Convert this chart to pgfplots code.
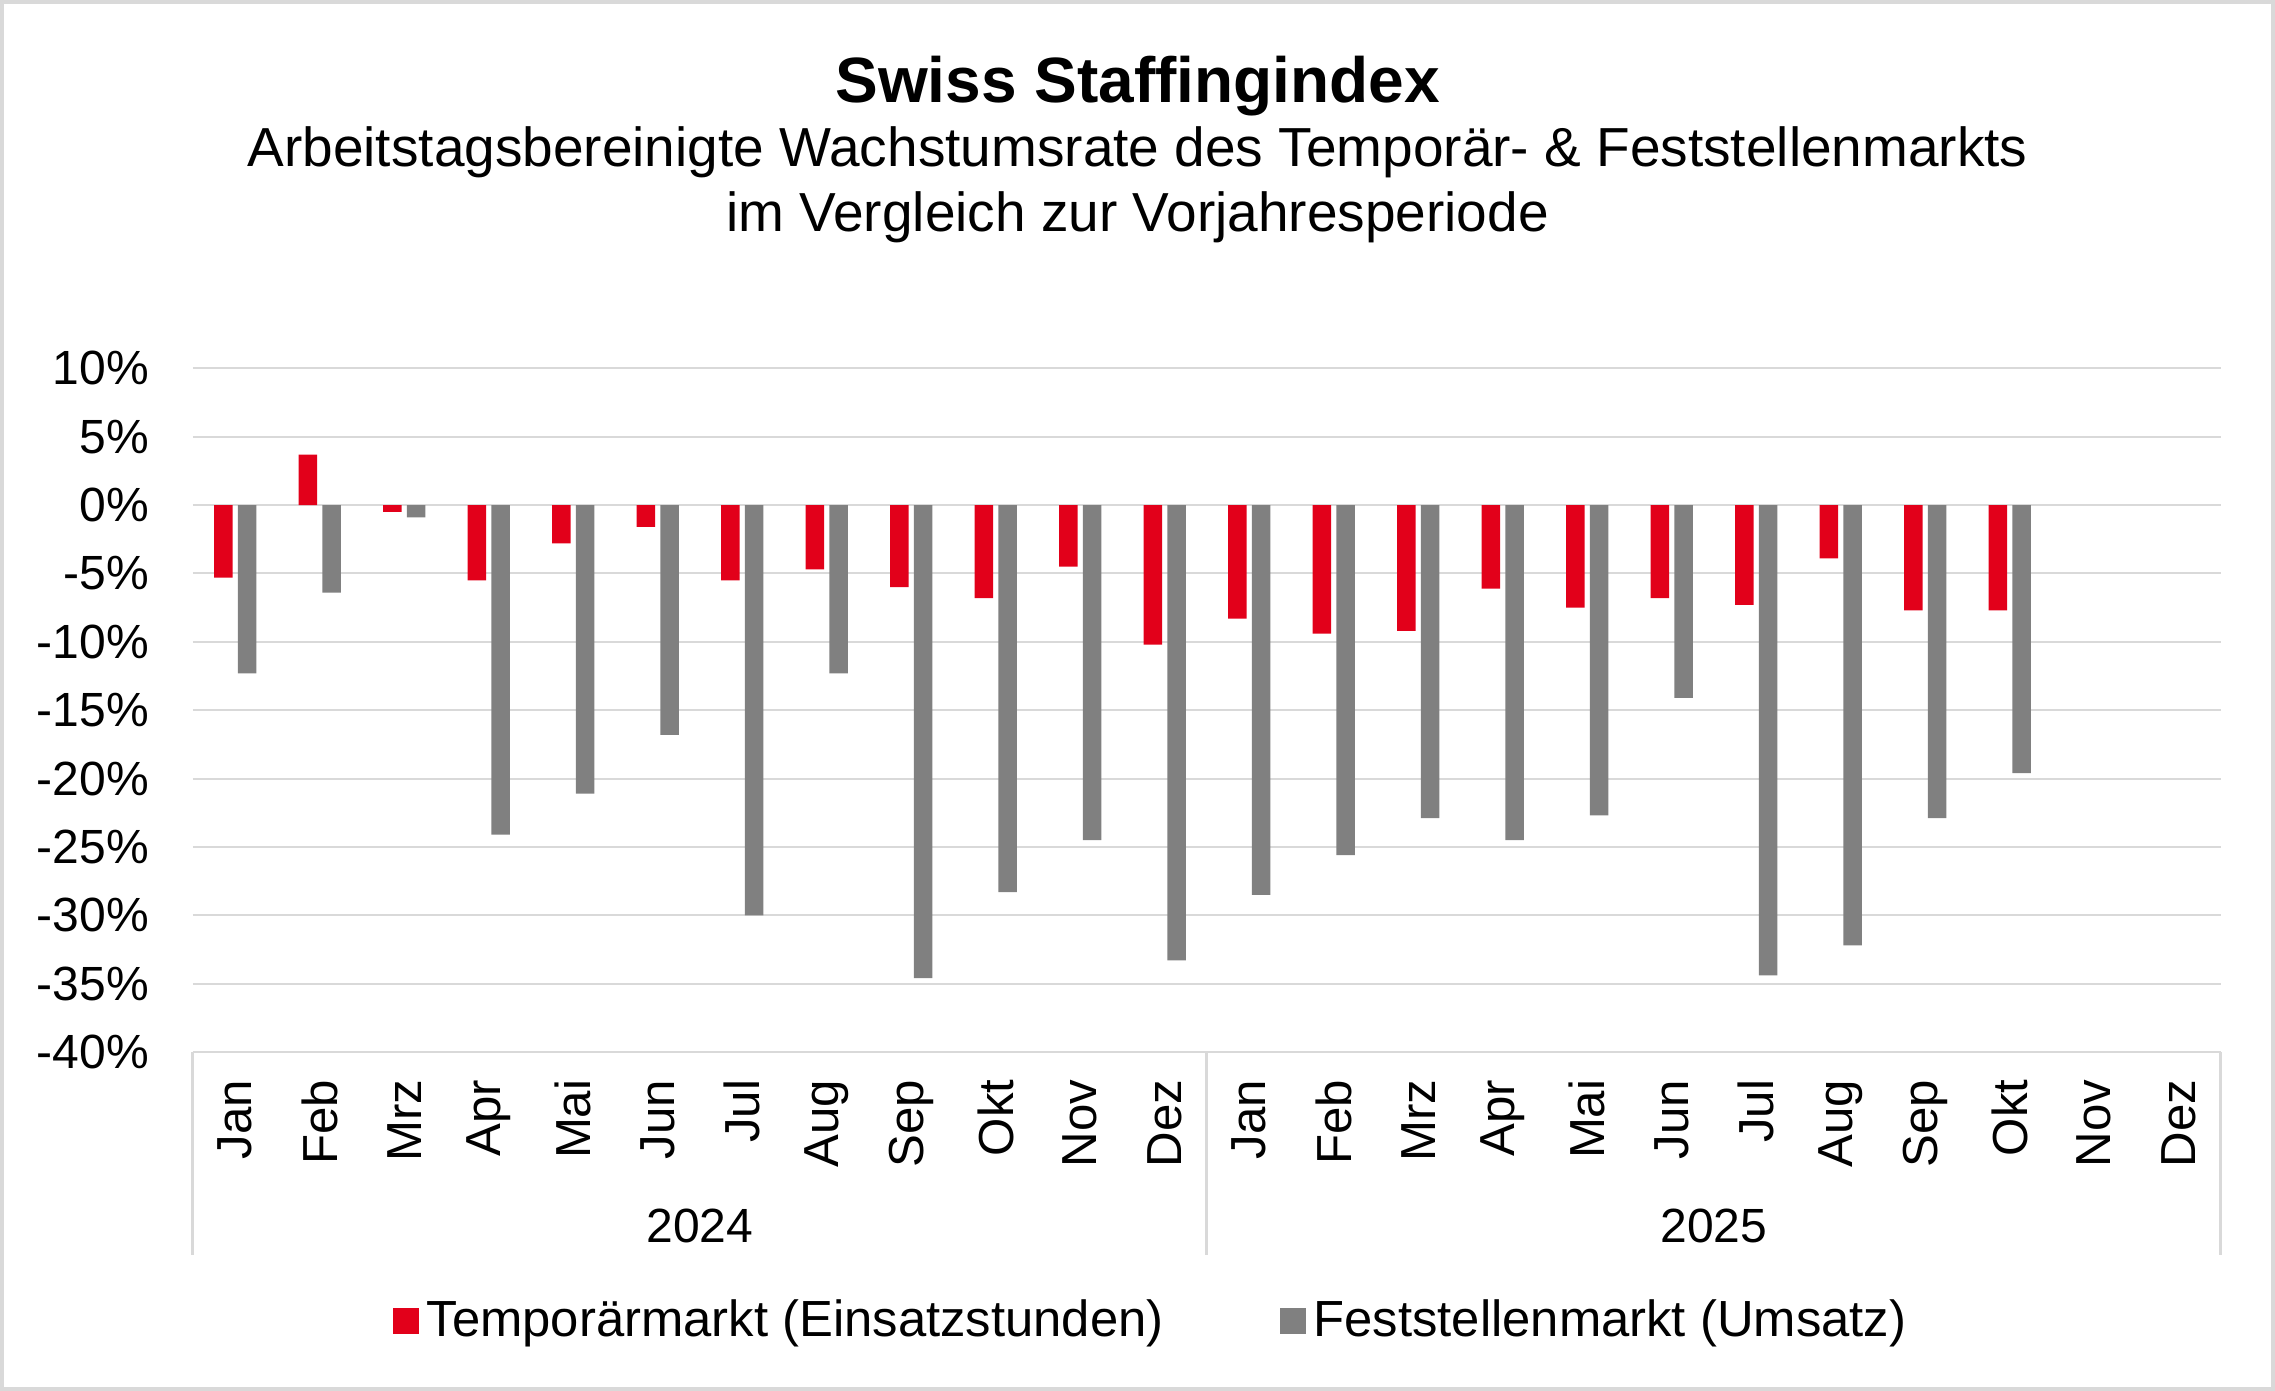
\documentclass[border=0pt]{standalone}
\usepackage{pgfplots}
\pgfplotsset{compat=1.18}
\usepackage{fontspec}
\setmainfont{Liberation Sans}
\definecolor{sred}{HTML}{E2001A}
\definecolor{sgray}{HTML}{808080}
\definecolor{gridc}{HTML}{D9D9D9}

\pgfplotstableread{
x temp fest
0 -5.3 -12.3
1 3.7 -6.4
2 -0.5 -0.9
3 -5.5 -24.1
4 -2.8 -21.1
5 -1.6 -16.8
6 -5.5 -30.0
7 -4.7 -12.3
8 -6.0 -34.6
9 -6.8 -28.3
10 -4.5 -24.5
11 -10.2 -33.3
12 -8.3 -28.5
13 -9.4 -25.6
14 -9.2 -22.9
15 -6.1 -24.5
16 -7.5 -22.7
17 -6.8 -14.1
18 -7.3 -34.4
19 -3.9 -32.2
20 -7.7 -22.9
21 -7.7 -19.6
}\datatable

\begin{document}
\begin{tikzpicture}
\useasboundingbox (0,0) rectangle (568.75pt,347.75pt);
\draw[gridc, line width=1pt] (0.5pt,0.5pt) rectangle (568.25pt,347.25pt);
\node[font=\fontsize{16}{19}\selectfont\bfseries, anchor=base] at (284.4pt,322.1pt) {Swiss Staffingindex};
\node[font=\fontsize{13.75}{16.5}\selectfont, anchor=base] at (284.4pt,306.1pt) {Arbeitstagsbereinigte Wachstumsrate des Temporär- \& Feststellenmarkts};
\node[font=\fontsize{13.75}{16.5}\selectfont, anchor=base] at (284.4pt,289.8pt) {im Vergleich zur Vorjahresperiode};
\begin{axis}[
  at={(48.25pt,84.75pt)}, anchor=south west,
  width=507pt, height=170.9pt, scale only axis,
  xmin=-0.5, xmax=23.5, ymin=-40, ymax=10,
  clip=false,
  axis line style={draw=none},
  major tick length=0pt,
  ymajorgrids, grid style={gridc, line width=0.5pt},
  ytick={-40,-35,...,10},
  yticklabels={-40\%,-35\%,-30\%,-25\%,-20\%,-15\%,-10\%,-5\%,0\%,5\%,10\%},
  yticklabel style={font=\fontsize{12}{14}\selectfont, xshift=-7.5pt},
  xtick={0,...,23},
  xticklabels={Jan,Feb,Mrz,Apr,Mai,Jun,Jul,Aug,Sep,Okt,Nov,Dez,Jan,Feb,Mrz,Apr,Mai,Jun,Jul,Aug,Sep,Okt,Nov,Dez},
  xticklabel style={font=\fontsize{12.3}{14}\selectfont, rotate=90, anchor=east, xshift=-3.4pt},
  ybar, bar width=0.22,
  legend columns=2,
  legend style={at={(axis description cs:0.4736,-0.3935)}, anchor=center, draw=none, fill=none,
    font=\fontsize{12.7}{15}\selectfont,
    /tikz/every even column/.append style={column sep=27pt}},
  legend image code/.code={\fill[#1] (0pt,-3.25pt) rectangle (6.5pt,3.25pt);},
]
\addplot[fill=sred, draw=none, bar shift=-0.14] table[x=x, y=temp] {\datatable};
\addlegendentry{Temporärmarkt (Einsatzstunden)}
\addplot[fill=sgray, draw=none, bar shift=0.14] table[x=x, y=fest] {\datatable};
\addlegendentry{Feststellenmarkt (Umsatz)}
\draw[gridc, line width=0.75pt] (axis cs:-0.5,-40) -- ++(0pt,-50.75pt);
\draw[gridc, line width=0.75pt] (axis cs:11.5,-40) -- ++(0pt,-50.75pt);
\draw[gridc, line width=0.75pt] (axis cs:23.5,-40) -- ++(0pt,-50.75pt);
\node[font=\fontsize{12}{14}\selectfont] at ([yshift=-43.5pt]axis cs:5.5,-40) {2024};
\node[font=\fontsize{12}{14}\selectfont] at ([yshift=-43.5pt]axis cs:17.5,-40) {2025};
\end{axis}
\end{tikzpicture}
\end{document}
